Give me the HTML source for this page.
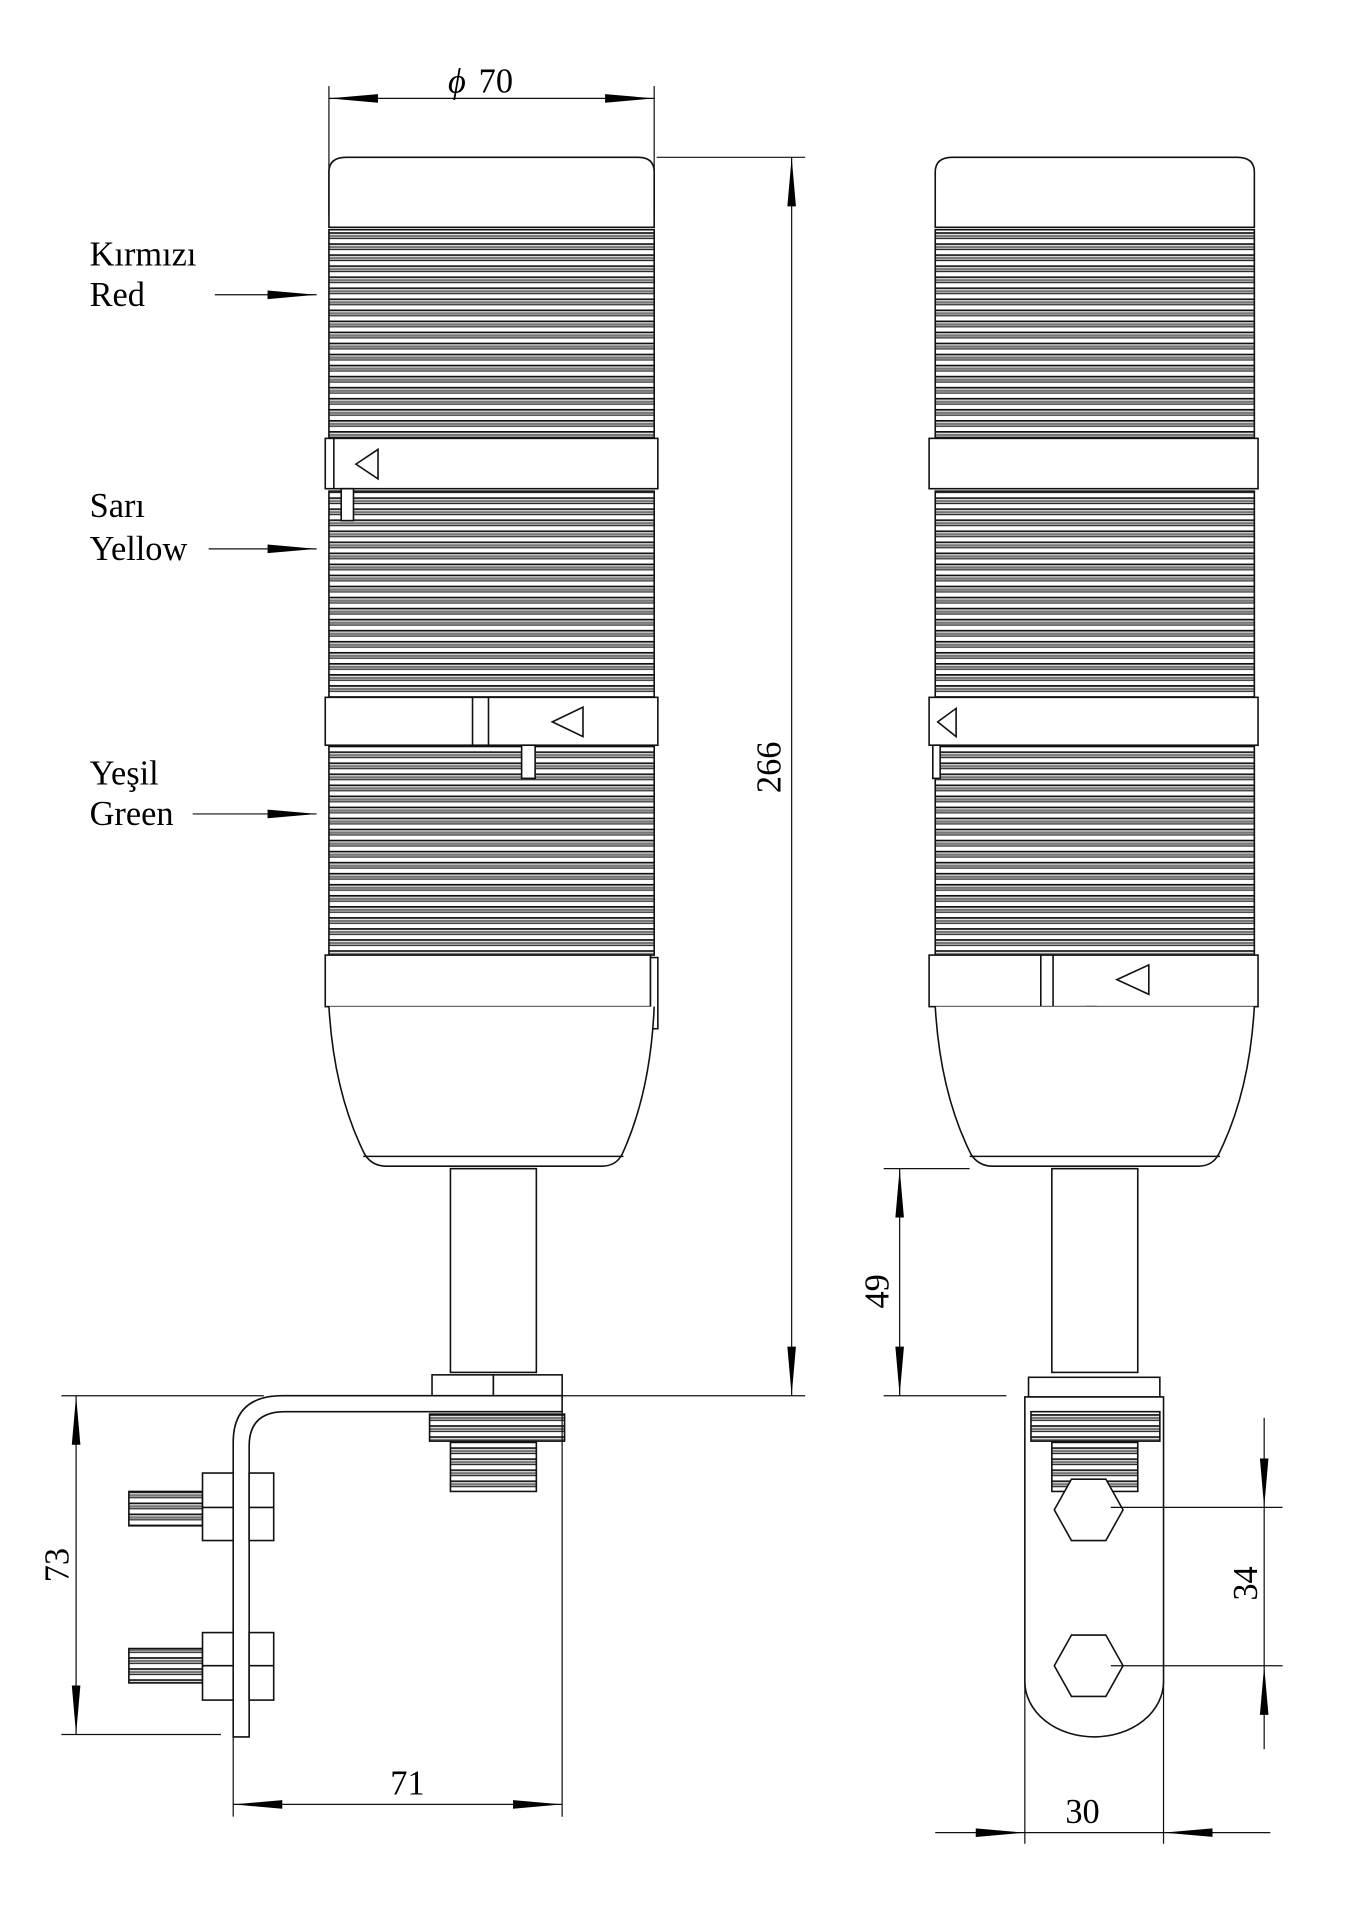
<!DOCTYPE html>
<html><head><meta charset="utf-8"><style>html,body{margin:0;padding:0;background:#fff}svg{display:block}</style></head>
<body>
<svg width="1355" height="1920" viewBox="0 0 1104 1564" xmlns="http://www.w3.org/2000/svg" font-family="Liberation Serif, serif">
<defs>
<pattern id="rib" width="10" height="9" patternUnits="userSpaceOnUse">
<rect width="10" height="9" fill="#fff"/>
<rect y="0" width="10" height="1.4" fill="#111"/>
<rect y="2.2" width="10" height="2" fill="#777"/>
<rect y="4.6" width="10" height="1" fill="#222"/>
</pattern>
<marker id="a" viewBox="0 0 40 10" refX="40" refY="5" markerWidth="40" markerHeight="10" markerUnits="userSpaceOnUse" orient="auto-start-reverse"><path d="M0,1.5 L40,5 L0,8.5 Z" fill="#000"/></marker>
</defs>
<g stroke="#111" stroke-width="1.3" fill="none">
<!-- LEFT BODY -->
<path d="M268,185 L268,140 Q268,128 282,128 L520,128 Q533,128 533,140 L533,185 Z" fill="#fff"/>
<rect x="268" y="187" width="265" height="170" fill="url(#rib)"/>
<rect x="268" y="400" width="265" height="168" fill="url(#rib)"/>
<rect x="268" y="608" width="265" height="170" fill="url(#rib)"/>
<rect x="265" y="357" width="271" height="41" fill="#fff"/>
<line x1="272" y1="357" x2="272" y2="398"/>
<path d="M290,378 L308,366 L308,390 Z"/>
<rect x="278" y="398" width="10" height="26" fill="#fff"/>
<rect x="265" y="568" width="271" height="39" fill="#fff"/>
<line x1="385" y1="568" x2="385" y2="607"/><line x1="398" y1="568" x2="398" y2="607"/>
<path d="M450,588 L475,576 L475,600 Z"/>
<rect x="425" y="607" width="11" height="27" fill="#fff"/>
<rect x="265" y="778" width="265" height="42" fill="#fff"/>
<rect x="530" y="780" width="6" height="58" fill="#fff"/>
<path d="M268,820 Q272,890 297,940 Q303,950 315,950 L490,950 Q502,950 507,940 Q530,890 533,820" fill="#fff"/>
<line x1="296" y1="942" x2="508" y2="942"/>
<rect x="367" y="952" width="70" height="166"/>
<rect x="352" y="1120" width="50" height="18" fill="#fff"/><rect x="402" y="1120" width="56" height="18" fill="#fff"/>
<path d="M230,1137 L458,1137 L458,1150 L232,1150 Q203,1150 203,1178 L203,1415 L190,1415 L190,1175 Q190,1137 230,1137 Z" fill="#fff"/>
<rect x="350" y="1152" width="110" height="22" fill="url(#rib)"/>
<rect x="367" y="1175" width="70" height="40" fill="url(#rib)"/>
<rect x="105" y="1215" width="60" height="28" fill="url(#rib)"/>
<rect x="165" y="1200" width="25" height="55" fill="#fff"/><rect x="203" y="1200" width="20" height="55" fill="#fff"/>
<line x1="165" y1="1228" x2="190" y2="1228"/><line x1="203" y1="1228" x2="223" y2="1228"/>
<rect x="105" y="1343" width="60" height="28" fill="url(#rib)"/>
<rect x="165" y="1330" width="25" height="55" fill="#fff"/><rect x="203" y="1330" width="20" height="55" fill="#fff"/>
<line x1="165" y1="1357" x2="190" y2="1357"/><line x1="203" y1="1357" x2="223" y2="1357"/>

<!-- RIGHT BODY -->
<path d="M762,185 L762,140 Q762,128 776,128 L1008,128 Q1022,128 1022,140 L1022,185 Z" fill="#fff"/>
<rect x="762" y="187" width="260" height="170" fill="url(#rib)"/>
<rect x="762" y="400" width="260" height="168" fill="url(#rib)"/>
<rect x="762" y="608" width="260" height="170" fill="url(#rib)"/>
<rect x="757" y="357" width="268" height="41" fill="#fff"/>
<rect x="757" y="568" width="268" height="39" fill="#fff"/>
<path d="M764,588 L779,577 L779,600 Z"/>
<rect x="760" y="607" width="6" height="27" fill="#fff"/>
<rect x="757" y="778" width="268" height="42" fill="#fff"/>
<line x1="848" y1="778" x2="848" y2="820"/><line x1="858" y1="778" x2="858" y2="820"/>
<path d="M910,798 L936,786 L936,810 Z"/>
<rect x="885" y="820" width="8" height="15" fill="#fff"/>
<path d="M762,820 Q766,890 791,940 Q797,950 809,950 L976,950 Q988,950 993,940 Q1018,890 1022,820" fill="#fff"/>
<line x1="790" y1="942" x2="994" y2="942"/>
<rect x="857" y="952" width="70" height="166"/>
<rect x="838" y="1122" width="107" height="16" fill="#fff"/>
<path d="M835,1138 L948,1138 L948,1370 A56.5,45 0 0 1 835,1370 Z" fill="#fff"/>
<rect x="840" y="1150" width="105" height="24" fill="url(#rib)"/>
<rect x="857" y="1175" width="70" height="40" fill="url(#rib)"/>
<path d="M873,1205 L901,1205 L915,1230 L901,1255 L873,1255 L859,1230 Z" fill="#fff"/>
<path d="M873,1332 L901,1332 L915,1357 L901,1382 L873,1382 L859,1357 Z" fill="#fff"/>

<!-- DIMENSIONS -->
<g stroke-width="1">
<line x1="268" y1="70" x2="268" y2="175"/><line x1="533" y1="70" x2="533" y2="175"/>
<line x1="268" y1="80" x2="533" y2="80" marker-start="url(#a)" marker-end="url(#a)"/>
<line x1="535" y1="128" x2="656" y2="128"/><line x1="458" y1="1137" x2="656" y2="1137"/>
<line x1="645" y1="128" x2="645" y2="1137" marker-start="url(#a)" marker-end="url(#a)"/>
<line x1="50" y1="1137" x2="215" y2="1137"/><line x1="50" y1="1413" x2="180" y2="1413"/>
<line x1="62" y1="1137" x2="62" y2="1413" marker-start="url(#a)" marker-end="url(#a)"/>
<line x1="190" y1="1415" x2="190" y2="1480"/><line x1="458" y1="1150" x2="458" y2="1480"/>
<line x1="190" y1="1470" x2="458" y2="1470" marker-start="url(#a)" marker-end="url(#a)"/>
<line x1="720" y1="952" x2="790" y2="952"/><line x1="720" y1="1137" x2="820" y2="1137"/>
<line x1="733" y1="952" x2="733" y2="1137" marker-start="url(#a)" marker-end="url(#a)"/>
<line x1="905" y1="1228" x2="1045" y2="1228"/><line x1="905" y1="1357" x2="1045" y2="1357"/>
<line x1="1030" y1="1155" x2="1030" y2="1228" marker-end="url(#a)"/>
<line x1="1030" y1="1228" x2="1030" y2="1357"/>
<line x1="1030" y1="1425" x2="1030" y2="1357" marker-end="url(#a)"/>
<line x1="835" y1="1370" x2="835" y2="1502"/><line x1="948" y1="1370" x2="948" y2="1502"/>
<line x1="762" y1="1493" x2="835" y2="1493" marker-end="url(#a)"/>
<line x1="835" y1="1493" x2="948" y2="1493"/>
<line x1="1035" y1="1493" x2="948" y2="1493" marker-end="url(#a)"/>
<line x1="175" y1="240" x2="258" y2="240" marker-end="url(#a)"/>
<line x1="170" y1="447" x2="258" y2="447" marker-end="url(#a)"/>
<line x1="157" y1="663" x2="258" y2="663" marker-end="url(#a)"/>
</g>
</g>
<g font-size="28" fill="#000">
<text x="73" y="216">Kırmızı</text><text x="73" y="249">Red</text>
<text x="73" y="421">Sarı</text><text x="73" y="456">Yellow</text>
<text x="73" y="639">Yeşil</text><text x="73" y="672">Green</text>
<text x="365" y="75" font-style="italic">ϕ</text><text x="390" y="75">70</text>
<text x="318" y="1462">71</text>
<text x="868" y="1485">30</text>
<text transform="translate(636,625) rotate(-90)" text-anchor="middle">266</text>
<text transform="translate(56,1275) rotate(-90)" text-anchor="middle">73</text>
<text transform="translate(724,1052) rotate(-90)" text-anchor="middle">49</text>
<text transform="translate(1024,1290) rotate(-90)" text-anchor="middle">34</text>
</g>
</svg>
</body></html>
